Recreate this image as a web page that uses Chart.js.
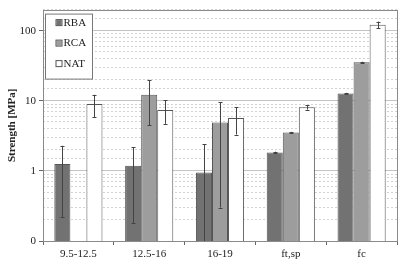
<!DOCTYPE html>
<html>
  <head>
    <title>Strength chart</title>
    <style>
      body { margin: 0; background: #fff; }
      #wrap { width: 408px; height: 265px; }
    </style>
  </head>
  <body>
    <div id="wrap">
      <canvas id="myChart" width="408" height="265"></canvas>
    </div>

    <script src="https://cdn.jsdelivr.net/npm/chart.js"></script>
    <script>
    // values
    const categories = ['9.5-12.5', '12.5-16', '16-19', 'ft,sp', 'fc'];
    const rba = [1.25, 1.18, 0.95, 1.83, 12.7];
    const rbaErr = [1.03, 1.0, 1.45, 0.05, 0.3];
    const rca = [null, 12.2, 4.9, 3.52, 35.4];
    const rcaErr = [null, 7.7, 4.6, 0.08, 0.7];
    const nat = [9.0, 7.4, 5.7, 8.1, 122];
    const natErr = [3.2, 2.7, 2.4, 0.6, 13];
    const yMajor = [0.1, 1, 10, 100];

    const serif = "'Liberation Serif', 'DejaVu Serif', serif";

    // error bars, drawn with the y scale
    const errorBars = {
      id: 'errorBars',
      afterDatasetsDraw(chart) {
        const ctx = chart.ctx;
        const y = chart.scales.y;
        const area = chart.chartArea;
        ctx.save();
        ctx.strokeStyle = '#444';
        ctx.lineWidth = 1;
        chart.data.datasets.forEach((ds, di) => {
          const meta = chart.getDatasetMeta(di);
          meta.data.forEach((bar, i) => {
            const v = ds.data[i];
            const e = ds.err[i];
            if (v == null || e == null) return;
            const x = Math.round(bar.x) + 0.5;
            let top = y.getPixelForValue(v + e);
            let bot = v - e > 0 ? y.getPixelForValue(v - e) : area.bottom;
            bot = Math.min(bot, area.bottom);
            ctx.beginPath();
            ctx.moveTo(x, top);
            ctx.lineTo(x, bot);
            ctx.moveTo(x - 2, Math.round(top) + 0.5);
            ctx.lineTo(x + 2, Math.round(top) + 0.5);
            if (bot < area.bottom) {
              ctx.moveTo(x - 2, Math.round(bot) + 0.5);
              ctx.lineTo(x + 2, Math.round(bot) + 0.5);
            }
            ctx.stroke();
          });
        });
        ctx.restore();
      }
    };

    // plot frame and legend box inside the plot
    const frameLegend = {
      id: 'frameLegend',
      afterDraw(chart) {
        const ctx = chart.ctx;
        const a = chart.chartArea;
        ctx.save();
        ctx.strokeStyle = '#8a8a8a';
        ctx.lineWidth = 1;
        ctx.strokeRect(Math.round(a.left) + 0.5, Math.round(a.top) + 0.5,
          Math.round(a.right - a.left), Math.round(a.bottom - a.top));

        const bx = a.left + 2.5, by = a.top + 4.5, bw = 47, bh = 65;
        ctx.fillStyle = '#fff';
        ctx.fillRect(bx, by, bw, bh);
        ctx.strokeStyle = '#777';
        ctx.strokeRect(bx, by, bw, bh);
        ctx.font = '11px ' + serif;
        ctx.textBaseline = 'middle';
        chart.data.datasets.forEach((ds, i) => {
          const cy = by + 9 + i * 20.5;
          ctx.fillStyle = ds.backgroundColor;
          ctx.fillRect(bx + 11, cy - 3, 5, 5);
          ctx.strokeStyle = '#555';
          ctx.strokeRect(bx + 10.5, cy - 3.5, 6, 6);
          ctx.fillStyle = '#222';
          ctx.fillText(ds.label, bx + 18, cy);
        });
        ctx.restore();
      }
    };

    const data = {
      labels: categories,
      datasets: [
        { label: 'RBA', data: rba, err: rbaErr, backgroundColor: '#727272' },
        { label: 'RCA', data: rca, err: rcaErr, backgroundColor: '#9d9d9d' },
        { label: 'NAT', data: nat, err: natErr, backgroundColor: '#ffffff' }
      ]
    };
    data.datasets.forEach(ds => {
      ds.borderColor = '#555';
      ds.borderWidth = 1;
      ds.categoryPercentage = 0.68;
      ds.barPercentage = 1.0;
    });

    const isMajor = v => yMajor.some(m => Math.abs(v - m) < m * 1e-6);

    new Chart(document.getElementById('myChart'), {
      type: 'bar',
      data: data,
      options: {
        responsive: false,
        animation: false,
        layout: { padding: { top: 9, right: 11, left: 0, bottom: 0 } },
        plugins: {
          legend: { display: false },
          tooltip: { enabled: false }
        },
        scales: {
          x: {
            offset: true,
            grid: { drawOnChartArea: false, tickLength: 4, color: '#666', offset: true },
            border: { display: false },
            ticks: { color: '#222', padding: 3, font: { family: serif, size: 11 } },
            afterFit: s => { s.height = 24; }
          },
          y: {
            type: 'logarithmic',
            min: 0.1,
            max: 200,
            border: { display: false, dash: c => (c.tick && isMajor(c.tick.value)) ? [] : [2, 2] },
            grid: {
              color: c => (c.tick && isMajor(c.tick.value)) ? '#c4c4c4' : '#d2d2d2',
              tickLength: 4,
              tickColor: c => (c.tick && isMajor(c.tick.value)) ? '#666' : 'rgba(0,0,0,0)'
            },
            ticks: {
              color: '#222',
              padding: 3,
              autoSkip: false,
              font: { family: serif, size: 11 },
              callback: v => isMajor(v) ? (v < 1 ? '0' : String(v)) : ''
            },
            title: {
              display: true,
              text: 'Strength [MPa]',
              color: '#222',
              padding: { top: 6, bottom: 2 },
              font: { family: serif, size: 11, weight: 'bold' }
            },
            afterFit: s => { s.width = 43; }
          }
        }
      },
      plugins: [errorBars, frameLegend]
    });
    </script>
  </body>
</html>
